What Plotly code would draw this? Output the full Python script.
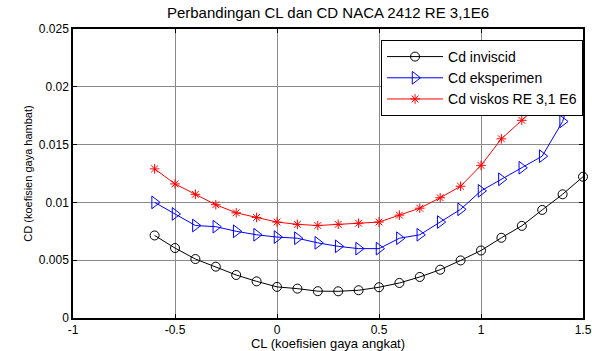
import plotly.graph_objects as go

# Lift coefficient stations
cl = [-0.6, -0.5, -0.4, -0.3, -0.2, -0.1, 0.0, 0.1, 0.2, 0.3, 0.4,
      0.5, 0.6, 0.7, 0.8, 0.9, 1.0, 1.1, 1.2, 1.3, 1.4, 1.5]

# Drag coefficient, inviscid solution
cd_inviscid = [0.00714, 0.00605, 0.00510, 0.00444, 0.00372, 0.00317, 0.00269,
               0.00254, 0.00232, 0.00231, 0.00240, 0.00266, 0.00303, 0.00355,
               0.00418, 0.00498, 0.00584, 0.00694, 0.00797, 0.00935, 0.01070,
               0.01222]

# Drag coefficient, experiment
cd_eksperimen = [0.0100, 0.0090, 0.0080, 0.0079, 0.0075, 0.0072, 0.0070,
                 0.0069, 0.0065, 0.0062, 0.0060, 0.0060, 0.0069, 0.0072,
                 0.0083, 0.0094, 0.0110, 0.0120, 0.0130, 0.0140, 0.0170,
                 0.0225]

# Drag coefficient, viscous solution at Re = 3.1e6
cd_viskos = [0.0129, 0.0116, 0.0107, 0.0098, 0.0091, 0.0087, 0.0083,
             0.0081, 0.0080, 0.0081, 0.0082, 0.0083, 0.0089, 0.0095,
             0.0104, 0.0114, 0.0132, 0.0155, 0.0171, 0.0187, 0.0210,
             0.0198]

x_ticks = [-1, -0.5, 0, 0.5, 1, 1.5]
x_ticklabels = ["-1", "-0.5", "0", "0.5", "1", "1.5"]
y_ticks = [0, 0.005, 0.01, 0.015, 0.02, 0.025]
y_ticklabels = ["0", "0.005", "0.01", "0.015", "0.02", "0.025"]

FONT = "Liberation Sans, Arial, sans-serif"

fig = go.Figure()
fig.add_trace(go.Scatter(
    x=cl, y=cd_inviscid, name="Cd inviscid", mode="lines+markers",
    line=dict(color="black", width=1),
    marker=dict(symbol="circle-open", size=9, color="black", line=dict(width=1)),
    cliponaxis=False))
fig.add_trace(go.Scatter(
    x=cl, y=cd_eksperimen, name="Cd eksperimen", mode="lines+markers",
    line=dict(color="#0000ff", width=1),
    marker=dict(symbol="triangle-right-open", size=11, color="#0000ff",
                line=dict(width=1)),
    cliponaxis=True))
fig.add_trace(go.Scatter(
    x=cl, y=cd_viskos, name="Cd viskos RE 3,1 E6", mode="lines+markers",
    line=dict(color="#ff0000", width=1),
    marker=dict(symbol="asterisk-open", size=8, color="#ff0000",
                line=dict(width=1, color="#ff0000")),
    cliponaxis=True))

axis_common = dict(
    showline=True, linecolor="black", linewidth=1.5, mirror="ticks",
    ticks="inside", ticklen=4, tickcolor="black", tickwidth=1,
    showgrid=True, gridcolor="#8a8a8a", gridwidth=1, zeroline=False,
    automargin=False,
    tickfont=dict(family=FONT, size=12, color="black"),
)

fig.update_layout(
    width=592, height=351,
    margin=dict(l=73, r=9, t=29, b=33, autoexpand=False),
    paper_bgcolor="white", plot_bgcolor="white",
    font=dict(family=FONT, color="black"),
    title=dict(text="Perbandingan CL dan CD NACA 2412 RE 3,1E6",
               x=0.5, xref="paper", y=1 - 13 / 351, yref="container",
               yanchor="middle", font=dict(family=FONT, size=15, color="black")),
    xaxis=dict(range=[-1, 1.5], tickvals=x_ticks, ticktext=x_ticklabels,
               title=dict(text="CL (koefisien gaya angkat)", standoff=2,
                          font=dict(family=FONT, size=13)),
               **axis_common),
    yaxis=dict(range=[0, 0.025], tickvals=y_ticks, ticktext=y_ticklabels,
               title=dict(text="CD (koefisien gaya hambat)", standoff=4,
                          font=dict(family=FONT, size=11)),
               **axis_common),
    legend=dict(x=0.604, y=0.962, xanchor="left", yanchor="top",
                bgcolor="white", bordercolor="black", borderwidth=1,
                itemwidth=56, font=dict(family=FONT, size=14, color="black"),
                tracegroupgap=0),
    showlegend=True,
)

fig.write_html("out.html")
